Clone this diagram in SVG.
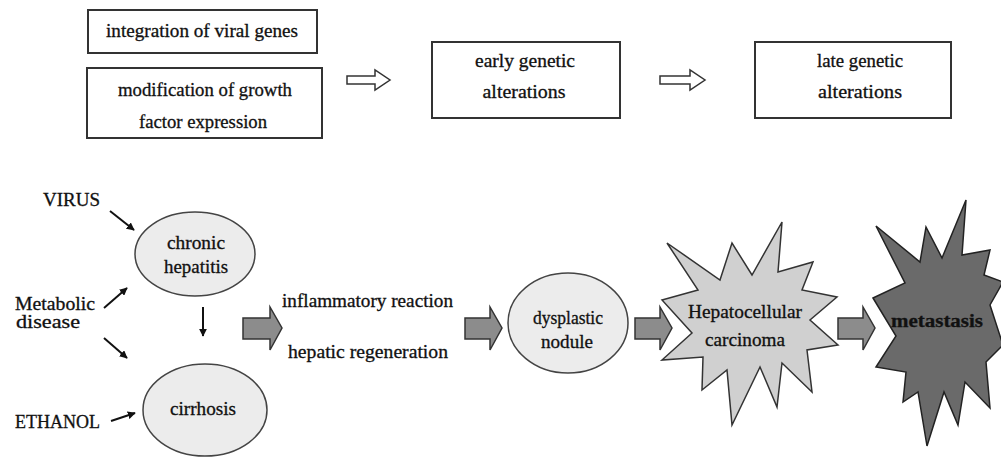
<svg xmlns="http://www.w3.org/2000/svg" width="1001" height="458" viewBox="0 0 1001 458">
<defs>
<style>
text{font-family:"Liberation Serif","DejaVu Serif",serif;fill:#111;font-size:18px;stroke:#111;stroke-width:0.3}
.c{text-anchor:middle}
.box{fill:#fff;stroke:#333;stroke-width:2}
.hol{fill:#fff;stroke:#333;stroke-width:1.5}
.ell{fill:#ececec;stroke:#444;stroke-width:1.5}
.blk{fill:#8c8c8c;stroke:#333;stroke-width:1.5}
.ln{stroke:#111;stroke-width:2;fill:none;marker-end:url(#ah)}
</style>
<marker id="ah" viewBox="0 0 10 10" refX="9" refY="5" markerWidth="4" markerHeight="4" orient="auto"><path d="M0,0 L10,5 L0,10 z" fill="#111"/></marker>
</defs>
<rect width="1001" height="458" fill="#fff"/>

<g id="box-integration">
<rect class="box" x="88" y="10" width="229" height="43"/>
<text class="c" x="202" y="37" textLength="192" lengthAdjust="spacingAndGlyphs">integration of viral genes</text>
</g>
<g id="box-modification">
<rect class="box" x="87" y="68" width="235" height="70"/>
<text class="c" x="205" y="96" textLength="174" lengthAdjust="spacingAndGlyphs">modification of growth</text>
<text class="c" x="203" y="128" textLength="128" lengthAdjust="spacingAndGlyphs">factor expression</text>
</g>
<g id="box-early">
<rect class="box" x="432" y="42" width="188" height="76"/>
<text class="c" x="525" y="67" textLength="100" lengthAdjust="spacingAndGlyphs">early genetic</text>
<text class="c" x="524" y="98" textLength="83" lengthAdjust="spacingAndGlyphs">alterations</text>
</g>
<g id="box-late">
<rect class="box" x="755" y="42" width="196" height="76"/>
<text class="c" x="860" y="67" textLength="86" lengthAdjust="spacingAndGlyphs">late genetic</text>
<text class="c" x="860" y="98" textLength="84" lengthAdjust="spacingAndGlyphs">alterations</text>
</g>

<g id="label-virus"><text x="43" y="206" textLength="57" lengthAdjust="spacingAndGlyphs">VIRUS</text></g>
<g id="label-metabolic">
<text x="15" y="310" textLength="80" lengthAdjust="spacingAndGlyphs">Metabolic</text>
<text x="16" y="328" textLength="64" lengthAdjust="spacingAndGlyphs">disease</text>
</g>
<g id="label-ethanol"><text x="15" y="428" textLength="85" lengthAdjust="spacingAndGlyphs">ETHANOL</text></g>

<g id="node-chronic">
<ellipse class="ell" cx="195" cy="254" rx="60" ry="42"/>
<text class="c" x="196" y="249" textLength="58" lengthAdjust="spacingAndGlyphs">chronic</text>
<text class="c" x="196" y="273" textLength="64" lengthAdjust="spacingAndGlyphs">hepatitis</text>
</g>
<g id="node-cirrhosis">
<ellipse class="ell" cx="205" cy="410" rx="62" ry="46"/>
<text class="c" x="203" y="415" textLength="66" lengthAdjust="spacingAndGlyphs">cirrhosis</text>
</g>

<g id="label-inflammatory"><text x="282" y="307" textLength="171" lengthAdjust="spacingAndGlyphs">inflammatory reaction</text></g>
<g id="label-regeneration"><text x="288" y="358" textLength="160" lengthAdjust="spacingAndGlyphs">hepatic regeneration</text></g>

<g id="node-dysplastic">
<ellipse class="ell" cx="568" cy="323" rx="60" ry="50"/>
<text class="c" x="568" y="324" textLength="70" lengthAdjust="spacingAndGlyphs">dysplastic</text>
<text class="c" x="567" y="348" textLength="52" lengthAdjust="spacingAndGlyphs">nodule</text>
</g>

<g id="node-hcc">
<polygon fill="#d0d0d0" stroke="#333" stroke-width="1.5" points="662,300 698,290 667,243 720,280 732,243 752,275 782,222 778,272 813,262 802,290 837,297 810,320 838,345 807,350 812,392 782,363 777,407 760,367 732,425 727,370 702,390 703,357 662,360 692,333"/>
<text class="c" x="745" y="318" textLength="114" lengthAdjust="spacingAndGlyphs">Hepatocellular</text>
<text class="c" x="745" y="346" textLength="80" lengthAdjust="spacingAndGlyphs">carcinoma</text>
</g>

<g id="node-metastasis">
<polygon fill="#6a6a6a" stroke="#222" stroke-width="1.5" points="873,298 905,283 876,226 920,262 926,227 942,258 966,200 962,255 990,250 984,275 1003,282 990,305 1003,345 986,362 990,408 965,382 958,425 944,392 927,446 918,392 903,402 906,372 876,367 896,336"/>
<text class="c" x="937" y="327" font-weight="bold" textLength="92" lengthAdjust="spacingAndGlyphs">metastasis</text>
</g>

<g id="connectors">
<polygon class="hol" points="347,76 375,76 375,70 390,80 375,90 375,84 347,84"/>
<polygon class="hol" points="660,76 690,76 690,70 705,80 690,90 690,84 660,84"/>
<line class="ln" x1="110" y1="211" x2="134" y2="230"/>
<line class="ln" x1="104" y1="308" x2="127" y2="288"/>
<line class="ln" x1="104" y1="338" x2="127" y2="358"/>
<line class="ln" x1="203" y1="307" x2="203" y2="336"/>
<line class="ln" x1="111" y1="421" x2="135" y2="413"/>
<polygon class="blk" points="243,318 270,318 270,307 282,328 270,350 270,339 243,339"/>
<polygon class="blk" points="465,318 490,318 490,307 502,328 490,350 490,339 465,339"/>
<polygon class="blk" points="635,318 660,318 660,307 672,328 660,350 660,339 635,339"/>
<polygon class="blk" points="838,318 863,318 863,307 875,328 863,350 863,339 838,339"/>
</g>
</svg>
